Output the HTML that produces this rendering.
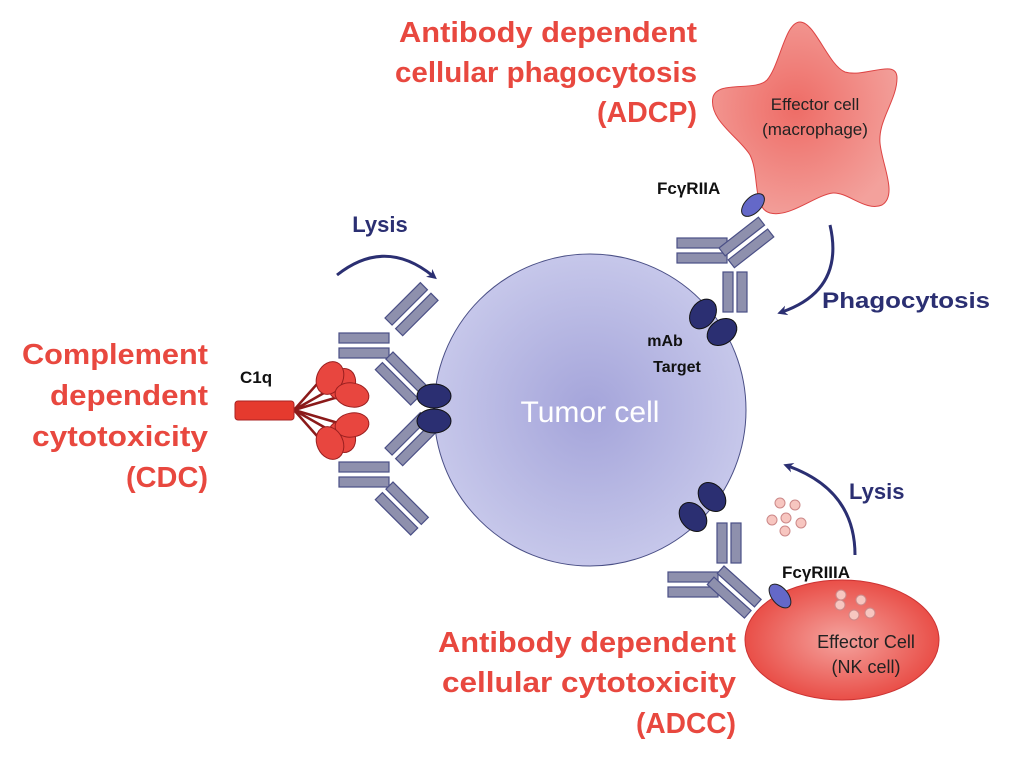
<!DOCTYPE html>
<html><head><meta charset="utf-8"><style>html,body{margin:0;padding:0;background:#fff}svg{display:block}</style></head>
<body>
<svg width="1024" height="760" viewBox="0 0 1024 760" xmlns="http://www.w3.org/2000/svg" font-family="Liberation Sans, sans-serif">
<defs>
<radialGradient id="tg" cx="0.5" cy="0.5" r="0.5"><stop offset="0" stop-color="#a4a4da"/><stop offset="1" stop-color="#c6c7ea"/></radialGradient>
<radialGradient id="mg" cx="0.45" cy="0.45" r="0.6"><stop offset="0" stop-color="#ee6c66"/><stop offset="1" stop-color="#f3a19c"/></radialGradient>
<radialGradient id="ng" cx="0.5" cy="0.5" r="0.55"><stop offset="0" stop-color="#f4a39e"/><stop offset="1" stop-color="#e8463f"/></radialGradient>
<g id="pair"><rect x="0" y="0" width="50" height="10" fill="#8e90ad" stroke="#4a4f86" stroke-width="1.2"/><rect x="0" y="15" width="50" height="10" fill="#8e90ad" stroke="#4a4f86" stroke-width="1.2"/></g>
<marker id="ah" markerWidth="10" markerHeight="10" refX="5" refY="5" orient="auto" markerUnits="userSpaceOnUse"><path d="M0,0 L10,5 L0,10 L3,5 Z" fill="#2b2f72"/></marker>
</defs>

<circle cx="590" cy="410" r="156" fill="url(#tg)" stroke="#4a4f86" stroke-width="1"/>
<text x="590" y="422" font-size="30" fill="#fff" text-anchor="middle">Tumor cell</text>

<path d="M800,22 C815,22 828,65 845,72 C865,78 897,58 897,78 C897,100 878,120 880,143 C882,165 898,195 882,205 C866,212 848,192 833,193 C815,195 790,218 770,213 C752,208 760,175 750,155 C740,138 708,120 713,97 C718,80 755,92 767,80 C780,65 785,22 800,22 Z" fill="url(#mg)" stroke="#d44" stroke-width="1"/>
<text x="815" y="110" font-size="17" fill="#222" text-anchor="middle">Effector cell</text>
<text x="815" y="135" font-size="17" fill="#222" text-anchor="middle">(macrophage)</text>

<ellipse cx="842" cy="640" rx="97" ry="60" fill="url(#ng)" stroke="#c33" stroke-width="1"/>
<text x="866" y="648" font-size="18" fill="#222" text-anchor="middle">Effector Cell</text>
<text x="866" y="673" font-size="18" fill="#222" text-anchor="middle">(NK cell)</text>
<g fill="#f7c6c0" stroke="#c88" stroke-width="1">
<circle cx="841" cy="595" r="5"/><circle cx="840" cy="605" r="5"/><circle cx="861" cy="600" r="5"/><circle cx="854" cy="615" r="5"/><circle cx="870" cy="613" r="5"/>
<circle cx="780" cy="503" r="5"/><circle cx="795" cy="505" r="5"/><circle cx="786" cy="518" r="5"/><circle cx="801" cy="523" r="5"/><circle cx="785" cy="531" r="5"/><circle cx="772" cy="520" r="5"/>
</g>

<g transform="translate(339,333)"><use href="#pair"/></g>
<g transform="translate(385,318) rotate(-45)"><use href="#pair"/></g>
<g transform="translate(393,352) rotate(45)"><use href="#pair"/></g>
<g transform="translate(339,462)"><use href="#pair"/></g>
<g transform="translate(385,448) rotate(-45)"><use href="#pair"/></g>
<g transform="translate(393,482) rotate(45)"><use href="#pair"/></g>
<ellipse cx="434" cy="396" rx="17" ry="12" fill="#2b2f72" stroke="#111" stroke-width="1"/>
<ellipse cx="434" cy="421" rx="17" ry="12" fill="#2b2f72" stroke="#111" stroke-width="1"/>

<g stroke="#8b1a1a" stroke-width="2.5"><line x1="294" y1="410" x2="325" y2="375"/><line x1="294" y1="410" x2="338" y2="385"/><line x1="294" y1="410" x2="345" y2="395"/><line x1="294" y1="410" x2="345" y2="425"/><line x1="294" y1="410" x2="338" y2="435"/><line x1="294" y1="410" x2="325" y2="445"/></g>
<rect x="235" y="401" width="59" height="19" rx="3" fill="#e53a2e" stroke="#a22"/>
<g fill="#e8463f" stroke="#9a1f1f" stroke-width="1">
<ellipse cx="342" cy="384" rx="13" ry="16" transform="rotate(25 342 384)"/><ellipse cx="330" cy="378" rx="13" ry="17" transform="rotate(25 330 378)"/><ellipse cx="352" cy="395" rx="17" ry="12" transform="rotate(10 352 395)"/>
<ellipse cx="342" cy="437" rx="13" ry="16" transform="rotate(-25 342 437)"/><ellipse cx="352" cy="425" rx="17" ry="12" transform="rotate(-10 352 425)"/><ellipse cx="330" cy="443" rx="13" ry="17" transform="rotate(-25 330 443)"/>
</g>
<text x="240" y="383" font-size="17" font-weight="bold" fill="#111">C1q</text>

<g transform="translate(677,238)"><use href="#pair"/></g>
<g transform="translate(719,248) rotate(-38)"><use href="#pair"/></g>
<g transform="translate(723,272)"><rect width="10" height="40" fill="#8e90ad" stroke="#4a4f86" stroke-width="1.2"/><rect x="14" width="10" height="40" fill="#8e90ad" stroke="#4a4f86" stroke-width="1.2"/></g>
<ellipse cx="703" cy="314" rx="12" ry="16" transform="rotate(35 703 314)" fill="#2b2f72" stroke="#111"/>
<ellipse cx="722" cy="332" rx="12" ry="16" transform="rotate(55 722 332)" fill="#2b2f72" stroke="#111"/>
<ellipse cx="753" cy="205" rx="8" ry="14" transform="rotate(45 753 205)" fill="#6468c8" stroke="#222"/>
<text x="657" y="194" font-size="17" font-weight="bold" fill="#111">FcγRIIA</text>
<text x="665" y="346" font-size="16" font-weight="bold" fill="#111" text-anchor="middle">mAb</text>
<text x="677" y="372" font-size="16" font-weight="bold" fill="#111" text-anchor="middle">Target</text>

<g transform="translate(717,523)"><rect width="10" height="40" fill="#8e90ad" stroke="#4a4f86" stroke-width="1.2"/><rect x="14" width="10" height="40" fill="#8e90ad" stroke="#4a4f86" stroke-width="1.2"/></g>
<g transform="translate(668,572)"><use href="#pair"/></g>
<g transform="translate(724,566) rotate(42)"><use href="#pair"/></g>
<ellipse cx="712" cy="497" rx="12" ry="16" transform="rotate(-40 712 497)" fill="#2b2f72" stroke="#111"/>
<ellipse cx="693" cy="517" rx="12" ry="16" transform="rotate(-40 693 517)" fill="#2b2f72" stroke="#111"/>
<ellipse cx="780" cy="596" rx="8" ry="14" transform="rotate(-40 780 596)" fill="#6468c8" stroke="#222"/>
<text x="782" y="578" font-size="17" font-weight="bold" fill="#111">FcγRIIIA</text>

<g fill="none" stroke="#2b2f72" stroke-width="3">
<path d="M337,275 Q385,237 433,276" marker-end="url(#ah)"/>
<path d="M830,225 Q845,290 782,312" marker-end="url(#ah)"/>
<path d="M855,555 Q855,490 788,466" marker-end="url(#ah)"/>
</g>
<text x="380" y="232" font-size="22" font-weight="bold" fill="#2b2f72" text-anchor="middle">Lysis</text>
<text x="822" y="308" font-size="22" font-weight="bold" fill="#2b2f72" textLength="168" lengthAdjust="spacingAndGlyphs">Phagocytosis</text>
<text x="849" y="499" font-size="22" font-weight="bold" fill="#2b2f72">Lysis</text>

<g fill="#e8483f" font-size="29" font-weight="bold" text-anchor="end">
<text x="697" y="42" textLength="298" lengthAdjust="spacingAndGlyphs">Antibody dependent</text>
<text x="697" y="82" textLength="302" lengthAdjust="spacingAndGlyphs">cellular phagocytosis</text>
<text x="697" y="122" textLength="100" lengthAdjust="spacingAndGlyphs">(ADCP)</text>
<text x="208" y="364" textLength="186" lengthAdjust="spacingAndGlyphs">Complement</text>
<text x="208" y="405" textLength="158" lengthAdjust="spacingAndGlyphs">dependent</text>
<text x="208" y="446" textLength="176" lengthAdjust="spacingAndGlyphs">cytotoxicity</text>
<text x="208" y="487" textLength="82" lengthAdjust="spacingAndGlyphs">(CDC)</text>
<text x="736" y="652" textLength="298" lengthAdjust="spacingAndGlyphs">Antibody dependent</text>
<text x="736" y="692" textLength="294" lengthAdjust="spacingAndGlyphs">cellular cytotoxicity</text>
<text x="736" y="733" textLength="100" lengthAdjust="spacingAndGlyphs">(ADCC)</text>
</g>
</svg>
</body></html>
